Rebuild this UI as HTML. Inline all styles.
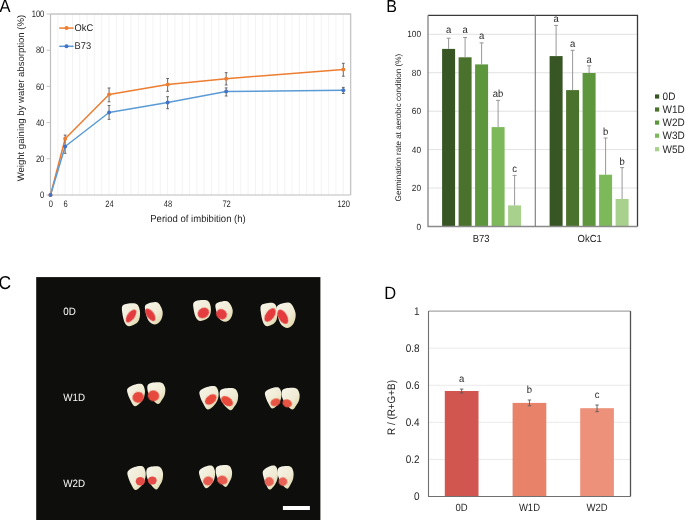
<!DOCTYPE html>
<html><head><meta charset="utf-8"><style>
html,body{margin:0;padding:0;background:#fff;width:685px;height:520px;overflow:hidden}
svg{display:block;will-change:transform}
text{font-family:"Liberation Sans",sans-serif;text-rendering:geometricPrecision}
</style></head><body>
<svg width="685" height="520" viewBox="0 0 685 520">
<text transform="translate(-0.60 11.70) scale(1 1.08)" font-size="16.5" fill="#000">A</text>
<path d="M57.82 14.00V195.00M65.14 14.00V195.00M72.46 14.00V195.00M79.78 14.00V195.00M87.10 14.00V195.00M94.42 14.00V195.00M101.74 14.00V195.00M109.06 14.00V195.00M116.38 14.00V195.00M123.70 14.00V195.00M131.02 14.00V195.00M138.34 14.00V195.00M145.66 14.00V195.00M152.98 14.00V195.00M160.30 14.00V195.00M167.62 14.00V195.00M174.94 14.00V195.00M182.26 14.00V195.00M189.58 14.00V195.00M196.90 14.00V195.00M204.22 14.00V195.00M211.54 14.00V195.00M218.86 14.00V195.00M226.18 14.00V195.00M233.50 14.00V195.00M240.82 14.00V195.00M248.14 14.00V195.00M255.46 14.00V195.00M262.78 14.00V195.00M270.10 14.00V195.00M277.42 14.00V195.00M284.74 14.00V195.00M292.06 14.00V195.00M299.38 14.00V195.00M306.70 14.00V195.00M314.02 14.00V195.00M321.34 14.00V195.00M328.66 14.00V195.00M335.98 14.00V195.00M343.30 14.00V195.00" stroke="#f0f0f0" stroke-width="0.8" fill="none"/>
<path d="M50.50 14.00H350.62V195.00" stroke="#c6c6c6" stroke-width="1.4" fill="none"/>
<path d="M50.50 14.00V195.00H350.62" stroke="#bdbdbd" stroke-width="1.2" fill="none"/>
<path d="M46.50 195.00H50.50M46.50 158.80H50.50M46.50 122.60H50.50M46.50 86.40H50.50M46.50 50.20H50.50M46.50 14.00H50.50" stroke="#c6c6c6" stroke-width="1" fill="none"/>
<text transform="translate(44.30 198.10) scale(0.9 1.12)" font-size="8.4" text-anchor="end" fill="#262626">0</text>
<text transform="translate(44.30 161.90) scale(0.9 1.12)" font-size="8.4" text-anchor="end" fill="#262626">20</text>
<text transform="translate(44.30 125.70) scale(0.9 1.12)" font-size="8.4" text-anchor="end" fill="#262626">40</text>
<text transform="translate(44.30 89.50) scale(0.9 1.12)" font-size="8.4" text-anchor="end" fill="#262626">60</text>
<text transform="translate(44.30 53.30) scale(0.9 1.12)" font-size="8.4" text-anchor="end" fill="#262626">80</text>
<text transform="translate(44.30 17.10) scale(0.9 1.12)" font-size="8.4" text-anchor="end" fill="#262626">100</text>
<text transform="translate(50.90 206.90) scale(0.9 1.12)" font-size="8.4" text-anchor="middle" fill="#262626">0</text>
<text transform="translate(65.54 206.90) scale(0.9 1.12)" font-size="8.4" text-anchor="middle" fill="#262626">6</text>
<text transform="translate(109.46 206.90) scale(0.9 1.12)" font-size="8.4" text-anchor="middle" fill="#262626">24</text>
<text transform="translate(168.02 206.90) scale(0.9 1.12)" font-size="8.4" text-anchor="middle" fill="#262626">48</text>
<text transform="translate(226.58 206.90) scale(0.9 1.12)" font-size="8.4" text-anchor="middle" fill="#262626">72</text>
<text transform="translate(343.70 206.90) scale(0.9 1.12)" font-size="8.4" text-anchor="middle" fill="#262626">120</text>
<text transform="translate(198.00 222.30) scale(1 1.05)" font-size="9.55" text-anchor="middle" fill="#262626">Period of imbibition (h)</text>
<text transform="translate(24.10 98.10) rotate(-90)" font-size="9.55" text-anchor="middle" fill="#262626">Weight gaining by water absorption (%)</text>
<polyline points="50.50,195.00 65.14,138.70 109.06,94.50 167.62,84.60 226.18,78.70 343.30,69.40" stroke="#ED7D31" stroke-width="1.5" fill="none" stroke-linejoin="round"/>
<polyline points="50.50,195.00 65.14,146.50 109.06,112.50 167.62,102.40 226.18,91.60 343.30,90.20" stroke="#5B9BD5" stroke-width="1.5" fill="none" stroke-linejoin="round"/>
<path d="M65.14 135.10V153.30M63.74 135.10H66.54M63.74 153.30H66.54M109.06 88.00V101.80M107.66 88.00H110.46M107.66 101.80H110.46M167.62 78.50V91.30M166.22 78.50H169.02M166.22 91.30H169.02M226.18 72.70V85.00M224.78 72.70H227.58M224.78 85.00H227.58M343.30 63.30V76.20M341.90 63.30H344.70M341.90 76.20H344.70M109.06 105.50V119.30M107.66 105.50H110.46M107.66 119.30H110.46M167.62 96.70V108.70M166.22 96.70H169.02M166.22 108.70H169.02M226.18 87.90V96.00M224.78 87.90H227.58M224.78 96.00H227.58M343.30 87.40V93.50M341.90 87.40H344.70M341.90 93.50H344.70" stroke="#595959" stroke-width="0.9" fill="none"/>
<circle cx="50.50" cy="195.00" r="2" fill="#ED7D31"/>
<circle cx="65.14" cy="138.70" r="2" fill="#ED7D31"/>
<circle cx="109.06" cy="94.50" r="2" fill="#ED7D31"/>
<circle cx="167.62" cy="84.60" r="2" fill="#ED7D31"/>
<circle cx="226.18" cy="78.70" r="2" fill="#ED7D31"/>
<circle cx="343.30" cy="69.40" r="2" fill="#ED7D31"/>
<circle cx="50.50" cy="195.00" r="2" fill="#4472C4"/>
<circle cx="65.14" cy="146.50" r="2" fill="#4472C4"/>
<circle cx="109.06" cy="112.50" r="2" fill="#4472C4"/>
<circle cx="167.62" cy="102.40" r="2" fill="#4472C4"/>
<circle cx="226.18" cy="91.60" r="2" fill="#4472C4"/>
<circle cx="343.30" cy="90.20" r="2" fill="#4472C4"/>
<path d="M59.2 28.1H73.6" stroke="#ED7D31" stroke-width="1.5"/><circle cx="66.5" cy="28.1" r="2" fill="#ED7D31"/>
<path d="M59.2 46.3H73.6" stroke="#5B9BD5" stroke-width="1.5"/><circle cx="66.5" cy="46.3" r="2" fill="#4472C4"/>
<text transform="translate(74.60 30.90) scale(1 1.05)" font-size="9.3" fill="#262626">OkC</text>
<text transform="translate(74.60 48.80) scale(1 1.05)" font-size="9.3" fill="#262626">B73</text>
<text transform="translate(386.20 11.80) scale(1 1.08)" font-size="16" fill="#000">B</text>
<path d="M428.00 188.06H637.50M428.00 149.62H637.50M428.00 111.18H637.50M428.00 72.74H637.50M428.00 34.30H637.50" stroke="#d9d9d9" stroke-width="0.8" fill="none"/>
<text transform="translate(421.00 229.50) scale(1 1.08)" font-size="8.3" text-anchor="end" fill="#262626">0</text>
<text transform="translate(421.00 191.06) scale(1 1.08)" font-size="8.3" text-anchor="end" fill="#262626">20</text>
<text transform="translate(421.00 152.62) scale(1 1.08)" font-size="8.3" text-anchor="end" fill="#262626">40</text>
<text transform="translate(421.00 114.18) scale(1 1.08)" font-size="8.3" text-anchor="end" fill="#262626">60</text>
<text transform="translate(421.00 75.74) scale(1 1.08)" font-size="8.3" text-anchor="end" fill="#262626">80</text>
<text transform="translate(421.00 37.30) scale(1 1.08)" font-size="8.3" text-anchor="end" fill="#262626">100</text>
<text transform="translate(401.20 127.60) rotate(-90)" font-size="8.1" text-anchor="middle" fill="#262626">Germination rate at aerobic condition (%)</text>
<rect x="442.10" y="48.90" width="13.00" height="177.60" fill="#375623"/>
<text transform="translate(448.60 32.70) scale(1 1.08)" font-size="9.5" text-anchor="middle" fill="#262626">a</text>
<rect x="458.60" y="57.30" width="13.00" height="169.20" fill="#4B722D"/>
<text transform="translate(465.10 32.70) scale(1 1.08)" font-size="9.5" text-anchor="middle" fill="#262626">a</text>
<rect x="475.10" y="64.40" width="13.00" height="162.10" fill="#5E963E"/>
<text transform="translate(481.60 38.80) scale(1 1.08)" font-size="9.5" text-anchor="middle" fill="#262626">a</text>
<rect x="491.60" y="127.10" width="13.00" height="99.40" fill="#7DB95A"/>
<text transform="translate(498.10 96.70) scale(1 1.08)" font-size="9.5" text-anchor="middle" fill="#262626">ab</text>
<rect x="508.10" y="205.40" width="13.00" height="21.10" fill="#A9D18E"/>
<text transform="translate(514.60 171.80) scale(1 1.08)" font-size="9.5" text-anchor="middle" fill="#262626">c</text>
<rect x="549.60" y="56.10" width="13.00" height="170.40" fill="#375623"/>
<text transform="translate(556.10 22.20) scale(1 1.08)" font-size="9.5" text-anchor="middle" fill="#262626">a</text>
<rect x="566.10" y="90.10" width="13.00" height="136.40" fill="#4B722D"/>
<text transform="translate(572.60 47.20) scale(1 1.08)" font-size="9.5" text-anchor="middle" fill="#262626">a</text>
<rect x="582.60" y="73.00" width="13.00" height="153.50" fill="#5E963E"/>
<text transform="translate(589.10 63.10) scale(1 1.08)" font-size="9.5" text-anchor="middle" fill="#262626">a</text>
<rect x="599.10" y="174.70" width="13.00" height="51.80" fill="#7DB95A"/>
<text transform="translate(605.60 134.60) scale(1 1.08)" font-size="9.5" text-anchor="middle" fill="#262626">b</text>
<rect x="615.60" y="199.00" width="13.00" height="27.50" fill="#A9D18E"/>
<text transform="translate(622.10 164.60) scale(1 1.08)" font-size="9.5" text-anchor="middle" fill="#262626">b</text>
<path d="M448.60 38.20V48.90M446.60 38.20H450.60M465.10 37.50V57.30M463.10 37.50H467.10M481.60 42.90V64.40M479.60 42.90H483.60M498.10 100.40V127.10M496.10 100.40H500.10M514.60 175.40V205.40M512.60 175.40H516.60M556.10 25.40V56.10M554.10 25.40H558.10M572.60 50.30V90.10M570.60 50.30H574.60M589.10 65.80V73.00M587.10 65.80H591.10M605.60 138.00V174.70M603.60 138.00H607.60M622.10 167.60V199.00M620.10 167.60H624.10" stroke="#8c8c8c" stroke-width="0.9" fill="none"/>
<path d="M428.00 15.30H637.50V226.50" stroke="#3a3a3a" stroke-width="1.3" fill="none"/>
<path d="M428.00 15.30V226.50H637.50" stroke="#8a8a8a" stroke-width="1.4" fill="none"/>
<path d="M535.3 15.30V226.50" stroke="#7a7a7a" stroke-width="1.1" fill="none"/>
<text transform="translate(481.20 242.00) scale(1 1.08)" font-size="9.5" text-anchor="middle" fill="#262626">B73</text>
<text transform="translate(589.70 242.00) scale(1 1.08)" font-size="9.5" text-anchor="middle" fill="#262626">OkC1</text>
<rect x="655" y="94.40" width="4.2" height="4.2" fill="#375623"/>
<text transform="translate(662.60 100.10) scale(1 1.08)" font-size="10" fill="#262626">0D</text>
<rect x="655" y="107.40" width="4.2" height="4.2" fill="#4B722D"/>
<text transform="translate(662.60 113.10) scale(1 1.08)" font-size="10" fill="#262626">W1D</text>
<rect x="655" y="120.50" width="4.2" height="4.2" fill="#5E963E"/>
<text transform="translate(662.60 126.20) scale(1 1.08)" font-size="10" fill="#262626">W2D</text>
<rect x="655" y="133.60" width="4.2" height="4.2" fill="#7DB95A"/>
<text transform="translate(662.60 139.30) scale(1 1.08)" font-size="10" fill="#262626">W3D</text>
<rect x="655" y="147.10" width="4.2" height="4.2" fill="#A9D18E"/>
<text transform="translate(662.60 152.80) scale(1 1.08)" font-size="10" fill="#262626">W5D</text>
<text transform="translate(-1.40 288.80) scale(1 1.06)" font-size="17.5" fill="#000">C</text>
<rect x="36.2" y="277.1" width="284.2" height="243" fill="#0e0e0c"/>
<text transform="translate(63.30 315.20) scale(1 1.08)" font-size="9.8" fill="#fafafa">0D</text>
<text transform="translate(63.30 401.20) scale(1 1.08)" font-size="9.8" fill="#fafafa">W1D</text>
<text transform="translate(63.30 486.90) scale(1 1.08)" font-size="9.8" fill="#fafafa">W2D</text>
<defs><linearGradient id="sg" x1="0" y1="0" x2="1" y2="1"><stop offset="0" stop-color="#F7F5EC"/><stop offset="0.6" stop-color="#EFEAD2"/><stop offset="1" stop-color="#DAD09C"/></linearGradient><filter id="bl1" x="-20%" y="-20%" width="140%" height="140%"><feGaussianBlur stdDeviation="0.45"/></filter><filter id="bl2" x="-30%" y="-30%" width="160%" height="160%"><feGaussianBlur stdDeviation="0.7"/></filter></defs>
<path d="M122.66 305.62C124.00 304.00 127.91 303.49 130.35 303.30C132.80 303.11 135.72 302.91 137.34 304.46C138.95 306.01 139.90 309.68 140.02 312.58C140.14 315.48 139.81 319.58 138.05 321.86C136.29 324.14 131.67 326.11 129.46 326.27C127.25 326.42 126.00 324.99 124.81 322.79C123.61 320.58 122.66 315.91 122.30 313.04C121.94 310.18 121.32 307.24 122.66 305.62Z" fill="url(#sg)" filter="url(#bl1)"/>
<ellipse cx="0" cy="0" rx="7.6" ry="3.7" transform="translate(131.1 316.0) rotate(-54)" fill="#E23B3E" filter="url(#bl2)"/>
<path d="M145.54 305.09C146.62 303.67 149.71 302.74 151.84 302.40C153.97 302.06 156.52 301.50 158.32 303.07C160.12 304.64 162.22 308.93 162.64 311.81C163.06 314.68 162.10 318.19 160.84 320.32C159.58 322.45 157.12 324.50 155.08 324.58C153.04 324.65 150.22 323.05 148.60 320.77C146.98 318.49 145.87 313.53 145.36 310.91C144.85 308.30 144.46 306.51 145.54 305.09Z" fill="url(#sg)" filter="url(#bl1)"/>
<ellipse cx="0" cy="0" rx="7.3" ry="3.7" transform="translate(150.3 314.8) rotate(54)" fill="#E23B3E" filter="url(#bl2)"/>
<path d="M193.95 302.20C195.26 300.73 199.08 300.28 201.47 300.10C203.87 299.93 206.72 299.75 208.30 301.15C209.87 302.55 210.81 305.88 210.92 308.50C211.04 311.12 210.72 314.84 209.00 316.90C207.28 318.97 202.76 320.75 200.60 320.89C198.44 321.03 197.22 319.74 196.05 317.74C194.88 315.75 193.95 311.51 193.60 308.92C193.25 306.33 192.64 303.67 193.95 302.20Z" fill="url(#sg)" filter="url(#bl1)"/>
<ellipse cx="0" cy="0" rx="6.0" ry="5.0" transform="translate(203.4 313.0) rotate(-35)" fill="#E43E40" filter="url(#bl2)"/>
<path d="M216.03 303.87C217.08 302.57 220.08 301.71 222.15 301.40C224.22 301.09 226.70 300.58 228.45 302.02C230.20 303.46 232.24 307.41 232.65 310.05C233.06 312.70 232.12 315.92 230.90 317.88C229.68 319.84 227.28 321.73 225.30 321.79C223.32 321.86 220.57 320.39 219.00 318.29C217.43 316.20 216.35 311.63 215.85 309.23C215.35 306.82 214.97 305.18 216.03 303.87Z" fill="url(#sg)" filter="url(#bl1)"/>
<ellipse cx="0" cy="0" rx="5.6" ry="5.0" transform="translate(221.5 314.3) rotate(35)" fill="#E43E40" filter="url(#bl2)"/>
<path d="M261.23 305.26C262.49 303.61 266.13 303.10 268.42 302.90C270.70 302.70 273.43 302.51 274.93 304.08C276.43 305.65 277.32 309.39 277.43 312.34C277.54 315.29 277.24 319.46 275.60 321.78C273.95 324.10 269.64 326.11 267.58 326.26C265.52 326.42 264.35 324.97 263.24 322.72C262.12 320.48 261.23 315.72 260.90 312.81C260.57 309.90 259.98 306.91 261.23 305.26Z" fill="url(#sg)" filter="url(#bl1)"/>
<ellipse cx="0" cy="0" rx="7.8" ry="4.2" transform="translate(270.1 315.0) rotate(-55)" fill="#E43A3C" filter="url(#bl2)"/>
<path d="M277.28 305.95C278.44 304.34 281.75 303.28 284.03 302.90C286.32 302.52 289.05 301.88 290.98 303.66C292.91 305.44 295.16 310.31 295.61 313.57C296.06 316.83 295.03 320.81 293.68 323.22C292.33 325.63 289.70 327.96 287.51 328.05C285.32 328.13 282.30 326.31 280.56 323.73C278.82 321.15 277.63 315.52 277.09 312.55C276.54 309.59 276.12 307.56 277.28 305.95Z" fill="url(#sg)" filter="url(#bl1)"/>
<ellipse cx="0" cy="0" rx="8.0" ry="4.2" transform="translate(282.8 316.8) rotate(60)" fill="#E43A3C" filter="url(#bl2)"/>
<path d="M127.57 388.57C128.61 387.02 131.73 385.46 134.10 384.71C136.47 383.95 140.01 383.16 141.80 384.03C143.59 384.90 144.48 387.73 144.84 389.93C145.20 392.12 144.78 394.96 143.95 397.19C143.11 399.43 141.38 401.81 139.83 403.32C138.28 404.84 136.13 406.65 134.64 406.27C133.15 405.89 132.01 403.10 130.88 401.05C129.75 399.01 128.39 396.10 127.84 394.01C127.29 391.93 126.52 390.12 127.57 388.57Z" fill="url(#sg)" filter="url(#bl1)"/>
<ellipse cx="0" cy="0" rx="5.8" ry="5.4" transform="translate(138.2 397.3) rotate(-20)" fill="#E64A3E" filter="url(#bl2)"/>
<path d="M147.56 385.57C148.16 383.82 149.57 383.15 151.89 382.67C154.21 382.19 159.28 381.85 161.48 382.67C163.67 383.49 164.48 385.64 165.05 387.57C165.61 389.51 165.36 392.22 164.86 394.26C164.36 396.31 163.14 398.20 162.04 399.84C160.94 401.48 159.78 404.00 158.28 404.08C156.78 404.15 154.68 402.11 153.02 400.29C151.36 398.46 149.22 395.60 148.32 393.15C147.41 390.70 146.97 387.31 147.56 385.57Z" fill="url(#sg)" filter="url(#bl1)"/>
<ellipse cx="0" cy="0" rx="5.8" ry="5.4" transform="translate(153.5 395.8) rotate(20)" fill="#E64A3E" filter="url(#bl2)"/>
<path d="M199.89 391.08C201.02 389.46 204.38 387.84 206.93 387.05C209.49 386.26 213.30 385.43 215.23 386.34C217.16 387.25 218.13 390.21 218.51 392.50C218.90 394.79 218.45 397.75 217.55 400.08C216.65 402.41 214.78 404.90 213.11 406.48C211.44 408.06 209.12 409.96 207.51 409.56C205.90 409.17 204.68 406.25 203.46 404.11C202.24 401.98 200.77 398.94 200.18 396.77C199.58 394.59 198.76 392.70 199.89 391.08Z" fill="url(#sg)" filter="url(#bl1)"/>
<ellipse cx="0" cy="0" rx="6.6" ry="4.2" transform="translate(210.8 399.5) rotate(-38)" fill="#E8483A" filter="url(#bl2)"/>
<path d="M219.88 391.53C220.49 389.75 221.94 389.07 224.32 388.58C226.70 388.09 231.91 387.75 234.16 388.58C236.41 389.41 237.25 391.61 237.83 393.57C238.41 395.54 238.15 398.30 237.63 400.38C237.12 402.47 235.87 404.40 234.74 406.06C233.61 407.72 232.42 410.30 230.88 410.37C229.34 410.45 227.18 408.37 225.48 406.51C223.77 404.66 221.58 401.75 220.65 399.25C219.72 396.75 219.27 393.31 219.88 391.53Z" fill="url(#sg)" filter="url(#bl1)"/>
<ellipse cx="0" cy="0" rx="6.6" ry="4.2" transform="translate(227.0 401.2) rotate(35)" fill="#E8483A" filter="url(#bl2)"/>
<path d="M265.35 391.79C266.32 390.33 269.21 388.87 271.41 388.16C273.61 387.44 276.89 386.69 278.55 387.51C280.21 388.33 281.04 391.01 281.37 393.08C281.70 395.15 281.31 397.82 280.54 399.93C279.76 402.03 278.16 404.28 276.72 405.70C275.28 407.13 273.29 408.84 271.91 408.49C270.52 408.13 269.47 405.49 268.42 403.56C267.37 401.64 266.11 398.89 265.60 396.93C265.09 394.97 264.38 393.26 265.35 391.79Z" fill="url(#sg)" filter="url(#bl1)"/>
<ellipse cx="0" cy="0" rx="5.0" ry="3.8" transform="translate(275.4 402.3) rotate(-20)" fill="#E85542" filter="url(#bl2)"/>
<path d="M281.86 391.20C282.46 389.49 283.87 388.83 286.19 388.36C288.51 387.88 293.58 387.55 295.78 388.36C297.97 389.16 298.78 391.28 299.35 393.18C299.91 395.07 299.66 397.74 299.16 399.75C298.66 401.75 297.44 403.61 296.34 405.22C295.24 406.83 294.08 409.31 292.58 409.38C291.08 409.45 288.98 407.45 287.32 405.66C285.66 403.87 283.52 401.06 282.62 398.65C281.71 396.24 281.27 392.92 281.86 391.20Z" fill="url(#sg)" filter="url(#bl1)"/>
<ellipse cx="0" cy="0" rx="4.8" ry="3.9" transform="translate(287.2 403.4) rotate(20)" fill="#E85542" filter="url(#bl2)"/>
<path d="M127.88 471.16C128.95 469.51 132.15 467.87 134.59 467.06C137.03 466.26 140.66 465.42 142.50 466.34C144.34 467.26 145.26 470.28 145.63 472.61C146.00 474.94 145.57 477.95 144.71 480.32C143.85 482.69 142.07 485.22 140.48 486.83C138.89 488.43 136.68 490.36 135.14 489.96C133.61 489.56 132.45 486.58 131.28 484.42C130.11 482.25 128.72 479.15 128.15 476.94C127.58 474.74 126.80 472.81 127.88 471.16Z" fill="url(#sg)" filter="url(#bl1)"/>
<ellipse cx="0" cy="0" rx="4.6" ry="4.3" transform="translate(140.3 481.2) rotate(0)" fill="#E44C46" filter="url(#bl2)"/>
<path d="M146.53 469.89C147.08 468.04 148.39 467.32 150.55 466.81C152.71 466.30 157.43 465.94 159.47 466.81C161.52 467.68 162.28 469.97 162.80 472.03C163.33 474.08 163.09 476.96 162.62 479.13C162.16 481.31 161.02 483.32 160.00 485.06C158.98 486.80 157.90 489.48 156.50 489.56C155.10 489.64 153.15 487.47 151.60 485.53C150.05 483.60 148.07 480.56 147.22 477.95C146.38 475.34 145.97 471.75 146.53 469.89Z" fill="url(#sg)" filter="url(#bl1)"/>
<ellipse cx="0" cy="0" rx="4.4" ry="4.1" transform="translate(152.3 480.5) rotate(0)" fill="#E44C46" filter="url(#bl2)"/>
<path d="M199.44 470.49C200.39 468.93 203.21 467.37 205.36 466.61C207.50 465.85 210.70 465.05 212.32 465.93C213.94 466.80 214.75 469.65 215.08 471.86C215.40 474.06 215.02 476.91 214.27 479.15C213.51 481.39 211.94 483.79 210.54 485.31C209.14 486.83 207.19 488.65 205.84 488.27C204.49 487.89 203.47 485.08 202.44 483.03C201.41 480.98 200.19 478.05 199.69 475.96C199.19 473.87 198.50 472.05 199.44 470.49Z" fill="url(#sg)" filter="url(#bl1)"/>
<ellipse cx="0" cy="0" rx="5.1" ry="4.4" transform="translate(208.1 481.0) rotate(-15)" fill="#E65A50" filter="url(#bl2)"/>
<path d="M215.91 468.37C216.45 466.62 217.74 465.95 219.85 465.47C221.96 464.99 226.57 464.65 228.57 465.47C230.56 466.29 231.30 468.44 231.82 470.38C232.33 472.31 232.10 475.02 231.65 477.06C231.19 479.11 230.08 481.00 229.08 482.64C228.08 484.28 227.03 486.80 225.66 486.88C224.29 486.95 222.38 484.91 220.87 483.09C219.36 481.26 217.42 478.40 216.60 475.95C215.77 473.50 215.37 470.11 215.91 468.37Z" fill="url(#sg)" filter="url(#bl1)"/>
<ellipse cx="0" cy="0" rx="5.3" ry="4.4" transform="translate(222.4 480.1) rotate(15)" fill="#E65A50" filter="url(#bl2)"/>
<path d="M263.13 470.76C264.02 469.11 266.69 467.47 268.71 466.66C270.74 465.86 273.76 465.02 275.29 465.94C276.82 466.86 277.59 469.88 277.89 472.21C278.20 474.54 277.84 477.55 277.13 479.92C276.41 482.29 274.94 484.82 273.61 486.43C272.28 488.03 270.45 489.96 269.17 489.56C267.90 489.16 266.93 486.19 265.96 484.02C264.99 481.85 263.83 478.75 263.36 476.55C262.89 474.34 262.24 472.41 263.13 470.76Z" fill="url(#sg)" filter="url(#bl1)"/>
<ellipse cx="0" cy="0" rx="4.6" ry="4.6" transform="translate(269.2 481.6) rotate(-30)" fill="#E86456" filter="url(#bl2)"/>
<path d="M277.80 469.41C278.33 467.59 279.58 466.90 281.64 466.40C283.70 465.89 288.21 465.55 290.16 466.40C292.11 467.25 292.83 469.49 293.33 471.50C293.83 473.51 293.61 476.33 293.17 478.46C292.72 480.59 291.63 482.56 290.66 484.26C289.69 485.96 288.66 488.59 287.32 488.67C285.98 488.75 284.12 486.62 282.64 484.72C281.17 482.83 279.28 479.85 278.47 477.30C277.66 474.75 277.27 471.23 277.80 469.41Z" fill="url(#sg)" filter="url(#bl1)"/>
<ellipse cx="0" cy="0" rx="4.4" ry="4.2" transform="translate(283.0 481.6) rotate(30)" fill="#E86456" filter="url(#bl2)"/>
<rect x="282.9" y="506" width="27" height="4" fill="#fff"/>
<text transform="translate(384.30 298.50) scale(1 1.08)" font-size="16.5" fill="#000">D</text>
<path d="M428.50 459.42H630.50M428.50 422.34H630.50M428.50 385.26H630.50M428.50 348.18H630.50" stroke="#e8e8e8" stroke-width="0.9" fill="none"/>
<text transform="translate(419.60 500.00) scale(1 1.1)" font-size="10" text-anchor="end" fill="#262626">0</text>
<text transform="translate(419.60 462.92) scale(1 1.1)" font-size="10" text-anchor="end" fill="#262626">0.2</text>
<text transform="translate(419.60 425.84) scale(1 1.1)" font-size="10" text-anchor="end" fill="#262626">0.4</text>
<text transform="translate(419.60 388.76) scale(1 1.1)" font-size="10" text-anchor="end" fill="#262626">0.6</text>
<text transform="translate(419.60 351.68) scale(1 1.1)" font-size="10" text-anchor="end" fill="#262626">0.8</text>
<text transform="translate(419.60 314.60) scale(1 1.1)" font-size="10" text-anchor="end" fill="#262626">1</text>
<text transform="translate(395.20 407.50) rotate(-90) scale(1 1.1)" font-size="9.9" text-anchor="middle" fill="#262626">R / (R+G+B)</text>
<rect x="444.80" y="391.00" width="33.7" height="105.50" fill="#D25650"/>
<text transform="translate(461.65 382.00) scale(1 1.08)" font-size="9.5" text-anchor="middle" fill="#262626">a</text>
<text transform="translate(461.65 511.10) scale(1 1.1)" font-size="9.5" text-anchor="middle" fill="#262626">0D</text>
<rect x="512.60" y="402.90" width="33.7" height="93.60" fill="#E8836A"/>
<text transform="translate(529.45 393.30) scale(1 1.08)" font-size="9.5" text-anchor="middle" fill="#262626">b</text>
<text transform="translate(529.45 511.10) scale(1 1.1)" font-size="9.5" text-anchor="middle" fill="#262626">W1D</text>
<rect x="580.20" y="408.20" width="33.7" height="88.30" fill="#EE917A"/>
<text transform="translate(597.05 398.40) scale(1 1.08)" font-size="9.5" text-anchor="middle" fill="#262626">c</text>
<text transform="translate(597.05 511.10) scale(1 1.1)" font-size="9.5" text-anchor="middle" fill="#262626">W2D</text>
<path d="M461.65 389.10V393.00M459.95 389.10H463.35M459.95 393.00H463.35M529.45 400.00V405.80M527.75 400.00H531.15M527.75 405.80H531.15M597.05 405.00V411.70M595.35 405.00H598.75M595.35 411.70H598.75" stroke="#595959" stroke-width="0.9" fill="none"/>
<path d="M428.50 311.10H630.50" stroke="#a6a6a6" stroke-width="1.4" fill="none"/>
<path d="M630.50 311.10V496.50" stroke="#505050" stroke-width="1.3" fill="none"/>
<path d="M428.50 311.10V496.50H630.50" stroke="#707070" stroke-width="1.1" fill="none"/>
</svg>
</body></html>
